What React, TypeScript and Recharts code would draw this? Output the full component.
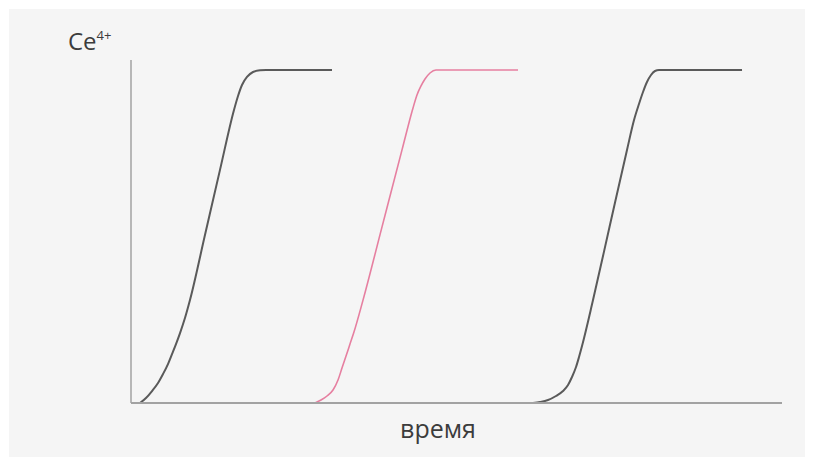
import { LineChart, Line, XAxis, YAxis, Label } from "recharts"

// time (arbitrary units, 0..100 across the axis) and Ce4+ level (plateau = 100)
const timeFirst = [1.38, 2.3, 3.23, 4.15, 4.92, 5.68, 6.3, 6.91, 7.53, 8.29, 9.06, 11.37, 13.67, 15.82, 16.44, 17.05, 17.82, 18.74, 19.82, 20.74, 30.88]
const ceFirst = [0, 1.5, 3.6, 6.0, 8.7, 11.7, 14.7, 17.7, 21.0, 25.5, 30.9, 50.5, 70.0, 88.0, 92.2, 95.5, 97.9, 99.4, 99.9, 100, 100]

const timeSecond = [28.26, 29.19, 30.11, 31.03, 31.8, 32.41, 33.03, 33.64, 34.25, 35.64, 38.56, 41.63, 43.32, 43.93, 44.55, 45.16, 45.93, 46.85, 59.45]
const ceSecond = [0, 0.9, 2.1, 3.9, 6.9, 10.5, 14.1, 17.7, 21.3, 30.9, 52.9, 76.0, 88.6, 92.5, 95.2, 97.3, 99.1, 100, 100]

const timeThird = [61.75, 62.83, 64.06, 65.28, 66.36, 67.13, 67.74, 68.36, 68.82, 69.28, 70.97, 73.58, 76.19, 77.27, 78.03, 78.65, 79.26, 79.88, 80.49, 81.11, 93.86]
const ceThird = [0, 0.3, 0.9, 2.1, 3.6, 5.4, 7.8, 10.8, 13.8, 17.1, 30.9, 53.5, 76.0, 85.0, 89.8, 93.4, 96.4, 98.5, 99.7, 100, 100]

const yLabel = "Ce"
const yLabelSup = "4+"
const xLabel = "время"

const toRows = (t: number[], c: number[]) => t.map((v, i) => ({ t: v, ce: c[i] }))

const curves = [
  { key: "first", data: toRows(timeFirst, ceFirst), color: "#5a5a5a", width: 2 },
  { key: "second", data: toRows(timeSecond, ceSecond), color: "#e67fa0", width: 1.6 },
  { key: "third", data: toRows(timeThird, ceThird), color: "#5a5a5a", width: 2 },
]

const FONT = "'Open Sans', sans-serif"

export default function App() {
  return (
    <div style={{ position: "absolute", left: 9, top: 9, width: 796, height: 448, background: "#f5f5f5" }}>
      <LineChart width={796} height={448} margin={{ top: 51, right: 23, bottom: 53, left: 121 }}>
        <XAxis
          type="number"
          dataKey="t"
          domain={[0, 100]}
          height={1}
          tick={false}
          tickLine={false}
          axisLine={{ stroke: "#a2a2a2", strokeWidth: 2 }}
        >
          <Label
            content={({ viewBox }: any) => (
              <text
                x={viewBox.x + 307}
                y={viewBox.y + 35}
                textAnchor="middle"
                fontFamily={FONT}
                fontSize={25}
                fill="#3c3c3c"
              >
                {xLabel}
              </text>
            )}
          />
        </XAxis>
        <YAxis
          type="number"
          domain={[0, 103]}
          width={1}
          tick={false}
          tickLine={false}
          axisLine={{ stroke: "#a2a2a2", strokeWidth: 1.5 }}
        >
          <Label
            content={({ viewBox }: any) => (
              <text x={viewBox.x - 62} y={viewBox.y - 10} fontFamily={FONT} fontSize={24} fill="#3c3c3c">
                {yLabel}
                <tspan fontSize={13} dy={-10}>{yLabelSup}</tspan>
              </text>
            )}
          />
        </YAxis>
        {curves.map((c) => (
          <Line
            key={c.key}
            data={c.data}
            dataKey="ce"
            type="monotone"
            stroke={c.color}
            strokeWidth={c.width}
            dot={false}
            activeDot={false}
            isAnimationActive={false}
          />
        ))}
      </LineChart>
    </div>
  )
}
